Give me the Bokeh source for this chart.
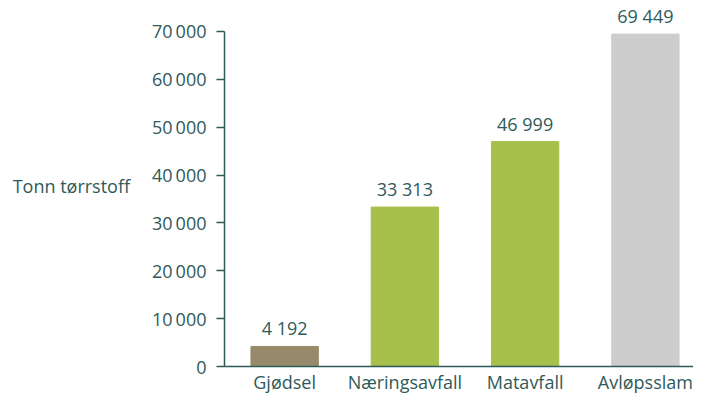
from bokeh.plotting import figure
from bokeh.models import ColumnDataSource, Range1d, FixedTicker, LabelSet
from bokeh.core.properties import value
from bokeh.embed import file_html
from bokeh.resources import INLINE

categories = ["Gjødsel", "Næringsavfall", "Matavfall", "Avløpsslam"]
values = [4192, 33313, 46999, 69449]
colors = ["#978a6b", "#a7c04c", "#a7c04c", "#cdcdcd"]
value_labels = ["4 192", "33 313", "46 999", "69 449"]
y_ticks = [0, 10000, 20000, 30000, 40000, 50000, 60000, 70000]
y_tick_labels = ["0", "10\u2009000", "20\u2009000", "30\u2009000", "40\u2009000",
                 "50\u2009000", "60\u2009000", "70\u2009000"]

TEXT = "#2f5a5a"
FONT = "Open Sans"

# category slots on a numeric axis (slot i centred at i + 0.5)
xpos = [i + 0.5 for i in range(len(categories))]

src = ColumnDataSource(dict(x=xpos, cat=categories, val=values, col=colors, lab=value_labels))

p = figure(width=693, height=397, output_backend="svg",
           toolbar_location=None, min_border_left=224, min_border_right=0,
           min_border_top=5, min_border_bottom=31)
p.x_range = Range1d(0, 3.9)
p.y_range = Range1d(0, 75430)

p.vbar(x="x", top="val", width=0.56, color="col", source=src)

labels = LabelSet(x="x", y="val", text="lab", source=src, text_align="center",
                  text_baseline="bottom", y_offset=6, text_font=value(FONT),
                  text_font_size=value("18px"), text_color=value(TEXT))
p.add_layout(labels)

p.outline_line_color = None
p.grid.grid_line_color = None
p.background_fill_color = "white"
p.border_fill_color = "white"

ya = p.yaxis[0]
ya.bounds = (0, 70000)
ya.ticker = FixedTicker(ticks=y_ticks)
ya.major_label_overrides = {t: l for t, l in zip(y_ticks, y_tick_labels)}
ya.minor_tick_line_color = None
ya.major_tick_out = 8
ya.major_tick_in = 0
ya.major_tick_line_color = TEXT
ya.axis_line_color = TEXT
ya.axis_line_width = 1.5
ya.major_tick_line_width = 1.5
ya.major_label_standoff = 10
ya.major_label_text_font = FONT
ya.major_label_text_font_size = "18px"
ya.major_label_text_color = TEXT
ya.axis_label = "Tonn tørrstoff"
ya.axis_label_orientation = "horizontal"
ya.axis_label_standoff = 19
ya.axis_label_text_font = FONT
ya.axis_label_text_font_size = "18px"
ya.axis_label_text_font_style = "normal"
ya.axis_label_text_color = TEXT

xa = p.xaxis[0]
xa.ticker = FixedTicker(ticks=xpos)
xa.major_label_overrides = {x: c for x, c in zip(xpos, categories)}
xa.major_tick_line_color = None
xa.minor_tick_line_color = None
xa.major_tick_out = 0
xa.major_tick_in = 0
xa.axis_line_color = TEXT
xa.axis_line_width = 1.5
xa.major_label_standoff = 3
xa.major_label_text_font = FONT
xa.major_label_text_font_size = "18px"
xa.major_label_text_color = TEXT

open("out.html", "w").write(file_html(p, INLINE))
